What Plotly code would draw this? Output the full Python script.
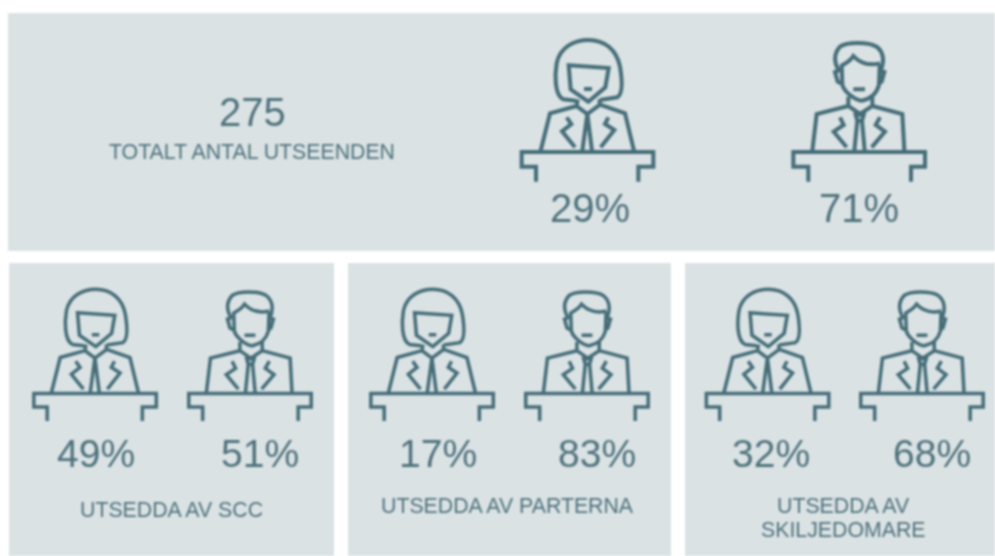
import re
import plotly.graph_objects as go

# ---- data ----
total_value = "275"
total_label = "TOTALT ANTAL UTSEENDEN"
overall_women = 29
overall_men = 71
group_labels = [["UTSEDDA AV SCC"], ["UTSEDDA AV PARTERNA"], ["UTSEDDA AV", "SKILJEDOMARE"]]
group_women = [49, 17, 32]
group_men = [51, 83, 68]

# ---- style ----
INK = "#456d78"
TEXT = "#4f727c"
PANEL = "#dae2e4"
FONT = "Liberation Sans"

# ---- pictograms: path commands in a private 480x480 icon space ----
WOMAN = (
    "M197,212 L160,208 C132,195 135,130 140,100 C150,50 195,30 235,30 C285,30 320,60 330,110 "
    "C335,140 342,190 322,202 L270,210 "
    "M176,106 L296,114 L286,172 L235,215 L182,178 Z "
    "M222,177 L246,177 "
    "M203,208 L200,228 L232,252 L270,224 L268,208 "
    "M200,228 L120,250 L92,362 M270,224 L345,250 L372,362 "
    "M232,252 L217,362 M232,252 L246,362 "
    "M170,262 L184,282 L156,304 L195,352 M295,262 L285,282 L313,300 L272,352 "
    "M78,455 L78,410 L35,410 L35,366 L430,366 L430,410 L385,410 L385,455"
)
MAN = (
    "M163,125 C148,100 145,72 165,50 C185,35 250,35 275,50 C300,70 297,100 285,128 "
    "M168,108 C180,100 195,95 205,78 C225,100 255,107 285,100 "
    "M170,105 L172,165 C180,190 215,212 230,212 C255,207 275,190 282,165 L284,105 "
    "M162,122 L150,126 L158,155 L172,162 M286,122 L298,126 L290,155 L278,162 "
    "M205,178 L240,178 "
    "M190,200 L190,228 L225,252 L262,228 L262,200 "
    "M190,228 L95,252 L82,362 M262,228 L352,252 L358,362 "
    "M212,254 L236,254 L231,272 L217,272 Z M217,272 L208,362 M231,272 L239,362 "
    "M165,262 L176,285 L146,305 L185,352 M285,262 L272,285 L300,305 L260,352 "
    "M70,455 L70,410 L25,410 L25,366 L420,366 L420,410 L378,410 L378,455"
)

def place(path, ox, oy, k):
    """Map an icon path into chart coordinates."""
    def repl(m):
        return f"{float(m.group(1))*k+ox:.2f},{float(m.group(2))*k+oy:.2f}"
    return re.sub(r"(-?[\d.]+),(-?[\d.]+)", repl, path)

def icon(path, ox, oy, k, w):
    return dict(type="path", xref="x", yref="y", path=place(path, ox, oy, k),
                line=dict(color=INK, width=w), fillcolor="rgba(0,0,0,0)", layer="above")

def panel(x0, y0, x1, y1):
    return dict(type="rect", xref="x", yref="y", x0=x0, y0=y0, x1=x1, y1=y1,
                fillcolor=PANEL, line=dict(width=0), layer="below")

def label(x, y, s, size):
    return dict(x=x, y=y, xref="x", yref="y", text=s, showarrow=False, xanchor="center",
                yanchor="middle", font=dict(family=FONT, size=size, color=TEXT), align="center")

shapes = [panel(8, 13, 995, 251), panel(9, 263, 334, 556),
          panel(348, 263, 671, 556), panel(685, 263, 995, 556)]
BIG = 1 / 3
SMALL = 0.31
shapes += [icon(WOMAN, 510, 30, BIG, 4), icon(MAN, 785, 30, BIG, 4)]

woman_ox = [23, 360, 695.5]
man_ox = [181, 518, 853]
icon_oy = 280
for wx, mx in zip(woman_ox, man_ox):
    shapes += [icon(WOMAN, wx, icon_oy, SMALL, 3.5), icon(MAN, mx, icon_oy, SMALL, 3.5)]

BIG_TXT = 40
MID_TXT = 39
SMALL_TXT = 21.3
ann = [label(252, 112, total_value, BIG_TXT), label(252, 152, total_label, SMALL_TXT),
       label(590, 208, f"{overall_women}%", BIG_TXT), label(859, 208, f"{overall_men}%", BIG_TXT)]
woman_tx = [96, 438, 771]
man_tx = [260, 597, 932]
group_tx = [171, 507, 843]
group_ty = [510, 506, 506]
for i in range(3):
    ann.append(label(woman_tx[i], 453, f"{group_women[i]}%", MID_TXT))
    ann.append(label(man_tx[i], 453, f"{group_men[i]}%", MID_TXT))
    for j, line in enumerate(group_labels[i]):
        ann.append(label(group_tx[i], group_ty[i] + 24 * j, line, SMALL_TXT))

fig = go.Figure()
fig.update_layout(
    width=995, height=556, margin=dict(l=0, r=0, t=0, b=0),
    paper_bgcolor="white", plot_bgcolor="white", showlegend=False,
    xaxis=dict(range=[0, 995], visible=False, fixedrange=True),
    yaxis=dict(range=[556, 0], visible=False, fixedrange=True),
    shapes=shapes, annotations=ann,
)
fig.write_html("out.html", config=dict(displayModeBar=False),
               post_script="document.body.style.margin='0';document.body.style.filter='blur(0.8px)';")
